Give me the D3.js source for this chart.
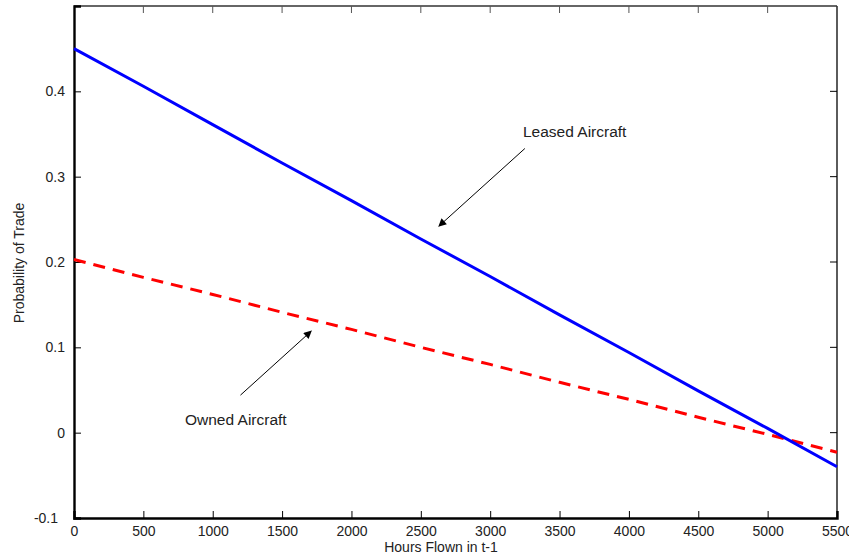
<!DOCTYPE html>
<html>
<head>
<meta charset="utf-8">
<script src="https://cdn.jsdelivr.net/npm/d3@7"></script>
<style>
  html, body { margin: 0; padding: 0; background: #fff; }
  svg { display: block; font-family: "Liberation Sans", Arial, sans-serif; }
</style>
</head>
<body>
<svg id="chart" width="849" height="556"></svg>
<script>
// ---- data ----
const hours = [0, 500, 1000, 1500, 2000, 2500, 3000, 3500, 4000, 4500, 5000, 5500];
const leased = [0.450, 0.406, 0.361, 0.316, 0.272, 0.227, 0.183, 0.138, 0.094, 0.049, 0.005, -0.040];
const owned  = [0.203, 0.182, 0.162, 0.141, 0.121, 0.100, 0.080, 0.059, 0.039, 0.018, -0.002, -0.023];
const xTicks = [0, 500, 1000, 1500, 2000, 2500, 3000, 3500, 4000, 4500, 5000, 5500];
const yTicks = [-0.1, 0, 0.1, 0.2, 0.3, 0.4];
const yTickLabels = ["-0.1", "0", "0.1", "0.2", "0.3", "0.4"];
const xLabel = "Hours Flown in t-1";
const yLabel = "Probability of Trade";
const annLeased = {text: "Leased Aircraft", from: [3250, 0.333], to: [2630, 0.242]};
const annOwned  = {text: "Owned Aircraft",  from: [1200, 0.044], to: [1710, 0.119]};

// ---- layout ----
const svg = d3.select("#chart");
const L = 74, R = 837, T = 6, B = 518;
const x = d3.scaleLinear().domain([0, 5500]).range([L, R]);
const y = d3.scaleLinear().domain([-0.1, 0.5]).range([B, T]);

svg.append("defs").append("marker")
  .attr("id", "arrow").attr("viewBox", "0 0 10 10")
  .attr("refX", 9).attr("refY", 5)
  .attr("markerWidth", 11).attr("markerHeight", 8)
  .attr("markerUnits", "userSpaceOnUse")
  .attr("orient", "auto")
  .append("path").attr("d", "M0,0 L10,5 L0,10 Z").attr("fill", "#000");

// frame (top/right thin grey)
svg.append("line").attr("x1", L).attr("x2", R).attr("y1", T).attr("y2", T)
  .attr("stroke", "#333").attr("stroke-width", 1.6);
svg.append("line").attr("x1", R).attr("x2", R).attr("y1", T).attr("y2", B)
  .attr("stroke", "#333").attr("stroke-width", 1.6);

// mirrored ticks on top and right
svg.append("g").selectAll("line").data(xTicks.slice(1, -1)).join("line")
  .attr("x1", d => x(d)).attr("x2", d => x(d)).attr("y1", T).attr("y2", T + 7)
  .attr("stroke", "#555").attr("stroke-width", 1);
svg.append("g").selectAll("line").data(yTicks.slice(1)).join("line")
  .attr("x1", R - 7).attr("x2", R).attr("y1", d => y(d)).attr("y2", d => y(d))
  .attr("stroke", "#000").attr("stroke-width", 1);

// axes
const xAxis = svg.append("g").attr("transform", `translate(0,${B})`)
  .call(d3.axisBottom(x).tickValues(xTicks).tickSize(-7).tickPadding(8).tickFormat(d3.format("d")));
const yAxis = svg.append("g").attr("transform", `translate(${L},0)`)
  .call(d3.axisLeft(y).tickValues(yTicks).tickSize(-7).tickPadding(9)
    .tickFormat((d, i) => yTickLabels[i]));
[xAxis, yAxis].forEach(g => {
  g.select(".domain").attr("stroke", "#000").attr("stroke-width", 2.4);
  g.selectAll(".tick line").attr("stroke", "#000").attr("stroke-width", 1);
  g.selectAll(".tick text").attr("font-size", 14).attr("fill", "#222")
    .attr("font-family", "Liberation Sans, Arial, sans-serif");
});
xAxis.selectAll(".tick").filter(d => d === 0 || d === 5500).select("line").remove();
yAxis.selectAll(".tick").filter(d => d === -0.1).select("line").remove();
yAxis.selectAll(".tick").filter(d => d === -0.1).select("text").attr("x", -16);

// lines
const line = d3.line().x((d, i) => x(hours[i])).y(d => y(d));
svg.append("path").datum(owned).attr("d", line)
  .attr("fill", "none").attr("stroke", "#ff0000").attr("stroke-width", 3)
  .attr("stroke-dasharray", "12,8");
svg.append("path").datum(leased).attr("d", line)
  .attr("fill", "none").attr("stroke", "#0000ff").attr("stroke-width", 3);

// annotations
[annLeased, annOwned].forEach(a => {
  svg.append("line")
    .attr("x1", x(a.from[0])).attr("y1", y(a.from[1]))
    .attr("x2", x(a.to[0])).attr("y2", y(a.to[1]))
    .attr("stroke", "#000").attr("stroke-width", 1)
    .attr("marker-end", "url(#arrow)");
});
svg.append("text").attr("x", 523).attr("y", 137).attr("font-size", 15.5).attr("fill", "#222")
  .text(annLeased.text);
svg.append("text").attr("x", 185).attr("y", 425).attr("font-size", 15.5).attr("fill", "#222")
  .text(annOwned.text);

// axis titles
svg.append("text").attr("x", 441).attr("y", 552).attr("text-anchor", "middle")
  .attr("font-size", 14).attr("fill", "#222").text(xLabel);
svg.append("text").attr("transform", "translate(24,263) rotate(-90)").attr("text-anchor", "middle")
  .attr("font-size", 14).attr("fill", "#222").text(yLabel);
</script>
</body>
</html>
